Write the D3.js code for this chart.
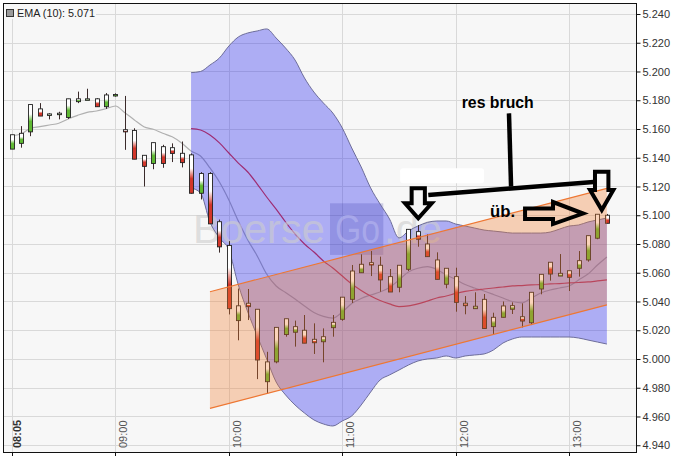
<!DOCTYPE html>
<html><head><meta charset="utf-8">
<script src="https://cdn.jsdelivr.net/npm/d3@7"></script>
<style>body{margin:0;background:#fff}svg{display:block}text{font-family:"Liberation Sans",Arial,sans-serif}</style>
</head><body><svg id="c" width="673" height="458"></svg>
<script>
// ---------- data ----------
const firstCandle = "08:05";
const candleStepMin = 5;
const open = [5.146,5.150,5.158,5.174,5.1695,5.170,5.168,5.179,5.1805,5.181,
5.1755,5.183,5.1595,5.159,5.1417,5.136,5.1477,5.147,5.1431,5.142,
5.1153,5.129,5.0955,5.079,5.0267,5.0388,5.0346,4.9842,4.998,5.017,
5.0186,5.020,5.0137,5.012,5.0218,5.0276,5.0415,5.060,5.067,5.0652,
5.0573,5.0499,5.0624,5.0886,5.080,5.0689,5.052,5.0573,5.0388,5.035,
5.0415,5.0225,5.029,5.0346,5.0294,5.0252,5.0487,5.0673,5.0577,5.0614,
5.0631,5.0689,5.084,5.100];
const high = [5.156,5.162,5.177,5.178,5.171,5.172,5.181,5.186,5.188,5.1815,
5.185,5.1848,5.183,5.1605,5.1417,5.1505,5.149,5.150,5.1513,5.143,
5.130,5.130,5.097,5.082,5.049,5.0487,5.0346,5.005,5.022,5.028,
5.0267,5.0306,5.0248,5.0213,5.0306,5.043,5.0654,5.0728,5.0751,5.0712,
5.0626,5.0652,5.0902,5.0932,5.0867,5.0742,5.0631,5.0635,5.0438,5.0464,
5.0452,5.0322,5.040,5.0394,5.0387,5.0464,5.0589,5.0673,5.073,5.0614,
5.0751,5.0858,5.1007,5.1009];
const low = [5.146,5.147,5.155,5.169,5.1667,5.1667,5.167,5.178,5.1805,5.1755,
5.174,5.1825,5.1455,5.139,5.120,5.132,5.133,5.137,5.1333,5.115,
5.111,5.094,5.074,5.031,5.013,5.0271,4.986,4.976,4.997,5.0155,
5.0086,5.011,5.0035,4.9977,5.0155,5.0266,5.039,5.060,5.0577,5.0468,
5.0466,5.0464,5.0612,5.0781,5.0712,5.0554,5.0492,5.0329,5.0311,5.035,
5.0212,5.0174,5.029,5.0313,5.022,5.0236,5.045,5.0545,5.0577,5.0473,
5.0573,5.0677,5.0833,5.0944];
const close = [5.156,5.157,5.177,5.169,5.1705,5.171,5.181,5.181,5.181,5.1755,
5.1837,5.184,5.158,5.139,5.134,5.1505,5.136,5.143,5.1366,5.1153,
5.129,5.094,5.078,5.035,5.037,5.0364,4.9993,4.998,5.022,5.028,
5.0225,5.011,5.0113,5.0155,5.0255,5.043,5.0612,5.0659,5.0654,5.055,
5.0466,5.0652,5.0902,5.0833,5.0712,5.0554,5.0631,5.0394,5.0371,5.0367,
5.0212,5.029,5.0369,5.0371,5.0264,5.0464,5.0589,5.0591,5.0596,5.0568,
5.0684,5.0858,5.1007,5.0944];
const ema10 = [5.1553,5.1565,5.1605,5.1616,5.1628,5.1640,5.1670,5.1695,5.1716,5.1725,
5.1741,5.1760,5.1713,5.1663,5.1616,5.1598,5.1570,5.1546,5.1503,5.1447,
5.1412,5.1329,5.1231,5.1106,5.0960,5.0828,5.0717,5.0591,5.0508,5.0463,
5.0417,5.0369,5.0323,5.0296,5.0285,5.0327,5.0386,5.0421,5.0445,5.0466,
5.0497,5.0550,5.0605,5.0631,5.0642,5.0623,5.0584,5.0553,5.0518,5.0494,
5.0473,5.0449,5.0424,5.0400,5.0390,5.0424,5.0459,5.0480,5.0494,5.0508,
5.0550,5.0591,5.0654,5.0710];
const bandStartIndex = 19;
const bbMiddle = [5.1602,5.1593,5.1558,5.1503,5.1433,5.1363,5.1301,5.1217,5.1127,5.1043,
5.0953,5.0870,5.0800,5.0744,5.0682,5.0633,5.0577,5.0522,5.0477,5.0438,
5.0407,5.0383,5.0365,5.0369,5.0383,5.0403,5.0424,5.0438,5.0456,5.0470,
5.0480,5.0487,5.0494,5.0501,5.0508,5.0511,5.0515,5.0518,5.0522,5.0525,
5.0529,5.0532,5.0536,5.0543,5.0550];
const bbUpper = [5.1992,5.2000,5.2045,5.2094,5.2177,5.2240,5.2268,5.2282,5.2296,5.2233,
5.2163,5.2080,5.1955,5.1857,5.1781,5.1711,5.1607,5.1468,5.1336,5.1190,
5.1078,5.0974,5.0842,5.0890,5.0925,5.0950,5.0960,5.0960,5.0939,5.0925,
5.0911,5.0897,5.0890,5.0883,5.0876,5.0876,5.0876,5.0876,5.0883,5.0904,
5.0925,5.0932,5.0953,5.0967,5.0981];
const bbLower = [5.1190,5.1155,5.0953,5.0842,5.0758,5.0515,5.0327,5.0160,5.0000,4.9840,
4.9750,4.9680,4.9624,4.9576,4.9548,4.9534,4.9569,4.9604,4.9680,4.9770,
4.9854,4.9889,4.9923,4.9958,4.9986,5.0000,5.0007,5.0021,5.0007,5.0021,
5.0028,5.0035,5.0063,5.0111,5.0139,5.0153,5.0153,5.0153,5.0153,5.0153,
5.0153,5.0146,5.0132,5.0118,5.0104];
const channelTimes = ["09:50","13:20"];
const channelUpper = [5.0468,5.1187];
const channelLower = [4.9656,5.0376];
const yTickValues = [4.94,4.96,4.98,5.00,5.02,5.04,5.06,5.08,5.10,5.12,5.14,5.16,5.18,5.20,5.22,5.24];
const xTickLabels = ["08:05","09:00","10:00","11:00","12:00","13:00"];
const legendText = "EMA (10): 5.071";
// annotations in data space: [minute of day, price]
const annStem = [[748.2,5.1709],[749.3,5.1199]];
const annLine = [[705.5,5.1141],[794.6,5.1233]];
const annArrow1 = [[696.7,5.1187],[703.7,5.1187],[703.7,5.1083],[707.3,5.1083],[700.2,5.0979],[693.2,5.1083],[696.7,5.1083]];
const annArrow2 = [[793.7,5.1303],[800.8,5.1303],[800.8,5.1176],[803.4,5.1176],[797.3,5.1037],[791.1,5.1176],[793.7,5.1176]];
const annArrowR = [[756.7,5.1047],[771.5,5.1047],[771.5,5.1092],[787.4,5.1012],[771.5,5.0939],[771.5,5.0974],[756.7,5.0974]];
const annWhiteBox = [[690.6,5.1327],[735.0,5.1222]];
const annTexts = [{t:723.2,v:5.1744,s:"res bruch",len:72},{t:738.2,v:5.0990,s:"üb.",len:25}];

// ---------- scales ----------
const toMin = s => +s.slice(0,2)*60 + +s.slice(3);
const t0 = toMin(firstCandle);
const times = open.map((_,i)=> t0 + i*candleStepMin);
const P = {l:3,t:3,r:636,b:452};
const x = d3.scaleLinear().domain([480.5,815.4]).range([P.l,P.r]);
const y = d3.scaleLinear().domain([4.9353,5.24765]).range([P.b,P.t]);

const svg = d3.select("#c");
svg.append("rect").attr("width",673).attr("height",458).attr("fill","#fff");
svg.append("rect").attr("x",P.l).attr("y",P.t).attr("width",P.r-P.l).attr("height",P.b-P.t).attr("fill","#f7f7f7");
const defs = svg.append("defs");
defs.append("clipPath").attr("id","clip").append("rect").attr("x",P.l).attr("y",P.t).attr("width",P.r-P.l).attr("height",P.b-P.t);
function grad(id,col){
  const g = defs.append("linearGradient").attr("id",id).attr("x1",0).attr("y1",0).attr("x2",0).attr("y2",1);
  g.append("stop").attr("offset","0%").attr("stop-color","#ffffff");
  g.append("stop").attr("offset","35%").attr("stop-color","#ffffff");
  g.append("stop").attr("offset","62%").attr("stop-color",col);
  g.append("stop").attr("offset","100%").attr("stop-color",col);
}
grad("gUp","#5fb833"); grad("gDn","#d2362a");

const g = svg.append("g").attr("clip-path","url(#clip)");
// grid
g.selectAll(".hg").data(yTickValues).join("line")
  .attr("x1",P.l).attr("x2",P.r).attr("y1",d=>Math.round(y(d))+0.5).attr("y2",d=>Math.round(y(d))+0.5)
  .attr("stroke","#d9d9d9").attr("stroke-width",1);
g.selectAll(".vg").data(xTickLabels).join("line")
  .attr("y1",P.t).attr("y2",P.b).attr("x1",d=>Math.round(x(toMin(d)))+0.5).attr("x2",d=>Math.round(x(toMin(d)))+0.5)
  .attr("stroke","#d9d9d9").attr("stroke-width",1);

// lines under band
const line = d3.line().x(d=>x(d[0])).y(d=>y(d[1])).curve(d3.curveMonotoneX);
g.append("path").attr("d",line(times.map((t,i)=>[t,ema10[i]])))
  .attr("fill","none").attr("stroke","#b0b0b0").attr("stroke-width",1.2);
const bTimes = bbMiddle.map((_,i)=>times[bandStartIndex+i]);
g.append("path").attr("d",line(bTimes.map((t,i)=>[t,bbMiddle[i]])))
  .attr("fill","none").attr("stroke","#e03c3c").attr("stroke-width",1.2);

// band fill
const area = d3.area().x((d,i)=>x(bTimes[i])).y0(d=>y(d[0])).y1(d=>y(d[1])).curve(d3.curveMonotoneX);
g.append("path").attr("d",area(bbLower.map((v,i)=>[v,bbUpper[i]])))
  .attr("fill","rgba(10,10,240,0.31)");

// watermark
const wm = g.append("g");
wm.append("rect").attr("x",x(653.5)).attr("y",y(5.1083)).attr("width",x(681.7)-x(653.5)).attr("height",y(5.0724)-y(5.1083))
  .attr("fill","rgba(40,40,160,0.2)");
wm.append("text").attr("x",x(581.0)).attr("y",y(5.0807)).attr("font-size",40).attr("textLength",132).attr("lengthAdjust","spacingAndGlyphs")
  .attr("fill","#cdcdcd").attr("fill-opacity",0.62).text("Boerse");
wm.append("text").attr("x",x(656.1)).attr("y",y(5.0807)).attr("font-size",40).attr("textLength",45).attr("lengthAdjust","spacingAndGlyphs")
  .attr("fill","#b8b8f0").attr("fill-opacity",0.6).text("Go");
wm.append("text").attr("x",x(682.1)).attr("y",y(5.0807)).attr("font-size",40).attr("textLength",58).attr("lengthAdjust","spacingAndGlyphs")
  .attr("fill","#cdcdcd").attr("fill-opacity",0.62).text(".de");

// band outlines
const bl = d3.line().x((d,i)=>x(bTimes[i])).y(d=>y(d)).curve(d3.curveMonotoneX);
g.append("path").attr("d",bl(bbUpper)).attr("fill","none").attr("stroke","#6d6d9a").attr("stroke-width",1);
g.append("path").attr("d",bl(bbLower)).attr("fill","none").attr("stroke","#6d6d9a").attr("stroke-width",1);

// candles
const cg = g.append("g");
times.forEach((t,i)=>{
  const cx = Math.round(x(t))+0.5;
  const up = close[i] >= open[i];
  cg.append("line").attr("x1",cx).attr("x2",cx).attr("y1",y(high[i])).attr("y2",y(low[i]))
    .attr("stroke","#3a2a2a").attr("stroke-width",1);
  const top = y(Math.max(open[i],close[i])), bot = y(Math.min(open[i],close[i]));
  cg.append("rect").attr("x",cx-2).attr("y",top).attr("width",4).attr("height",Math.max(bot-top,1.5))
    .attr("fill",up?"url(#gUp)":"url(#gDn)").attr("stroke","#222").attr("stroke-width",0.9);
});

// channel
const cT = channelTimes.map(toMin);
g.append("path").attr("d",
  "M"+x(cT[0])+","+y(channelUpper[0])+"L"+x(cT[1])+","+y(channelUpper[1])+"L"+x(cT[1])+","+y(channelLower[1])+"L"+x(cT[0])+","+y(channelLower[0])+"Z")
  .attr("fill","rgba(242,125,45,0.33)");
[channelUpper,channelLower].forEach(arr=>{
  g.append("line").attr("x1",x(cT[0])).attr("y1",y(arr[0])).attr("x2",x(cT[1])).attr("y2",y(arr[1]))
    .attr("stroke","#ee7733").attr("stroke-width",1.2);
});

// annotations
const ag = g.append("g");
ag.append("rect").attr("x",x(annWhiteBox[0][0])).attr("y",y(annWhiteBox[0][1]))
  .attr("width",x(annWhiteBox[1][0])-x(annWhiteBox[0][0])).attr("height",y(annWhiteBox[1][1])-y(annWhiteBox[0][1]))
  .attr("rx",3).attr("fill","#fff");
const pl = d3.line().x(d=>x(d[0])).y(d=>y(d[1]));
ag.append("path").attr("d",pl(annStem)).attr("stroke","#000").attr("stroke-width",4.5).attr("fill","none");
ag.append("path").attr("d",pl(annLine)).attr("stroke","#000").attr("stroke-width",4.5).attr("fill","none");
[annArrow1,annArrow2,annArrowR].forEach(a=>{
  ag.append("path").attr("d",pl(a)+"Z").attr("stroke","#000").attr("stroke-width",4).attr("stroke-linejoin","miter").attr("fill","none");
});
annTexts.forEach(d=>{
  ag.append("text").attr("x",x(d.t)).attr("y",y(d.v)).attr("font-family","'Open Sans',sans-serif").attr("font-weight","bold")
    .attr("font-size",16).attr("textLength",d.len).attr("lengthAdjust","spacingAndGlyphs").attr("fill","#000").text(d.s);
});

// legend
svg.append("rect").attr("x",4).attr("y",4).attr("width",92).attr("height",15).attr("fill","#f7f7f7");
svg.append("rect").attr("x",6.5).attr("y",9.5).attr("width",7).attr("height",7).attr("fill","#9a9a9a").attr("stroke","#333");
svg.append("text").attr("x",17).attr("y",17).attr("font-size",11).attr("fill","#222").attr("textLength",78).attr("lengthAdjust","spacingAndGlyphs").text(legendText);

// frame & axes
svg.append("rect").attr("x",P.l+0.5).attr("y",P.t+0.5).attr("width",P.r-P.l).attr("height",P.b-P.t)
  .attr("fill","none").attr("stroke","#111").attr("stroke-width",1);
const ya = svg.append("g").attr("transform",`translate(${P.r+0.5},0)`)
  .call(d3.axisRight(y).tickValues(yTickValues).tickFormat(d3.format(".3f")).tickSize(4).tickPadding(2));
ya.select(".domain").remove();
ya.selectAll("line").attr("stroke","#111");
ya.selectAll("text").attr("font-size",11).attr("fill","#333").attr("font-family","'Liberation Sans',Arial,sans-serif");
svg.selectAll(".xt").data(xTickLabels).join("line")
  .attr("x1",d=>Math.round(x(toMin(d)))+0.5).attr("x2",d=>Math.round(x(toMin(d)))+0.5)
  .attr("y1",P.b).attr("y2",P.b+4).attr("stroke","#111");
svg.selectAll(".xl").data(xTickLabels).join("text")
  .attr("transform",(d,i)=>`translate(${Math.round(x(toMin(d)))+(i===0?9:12)},${P.b-4}) rotate(-90)`)
  .attr("font-size",11).attr("fill",(d,i)=>i===0?"#333":"#555").attr("font-weight",(d,i)=>i===0?"bold":"normal")
  .text(d=>d);
</script></body></html>
